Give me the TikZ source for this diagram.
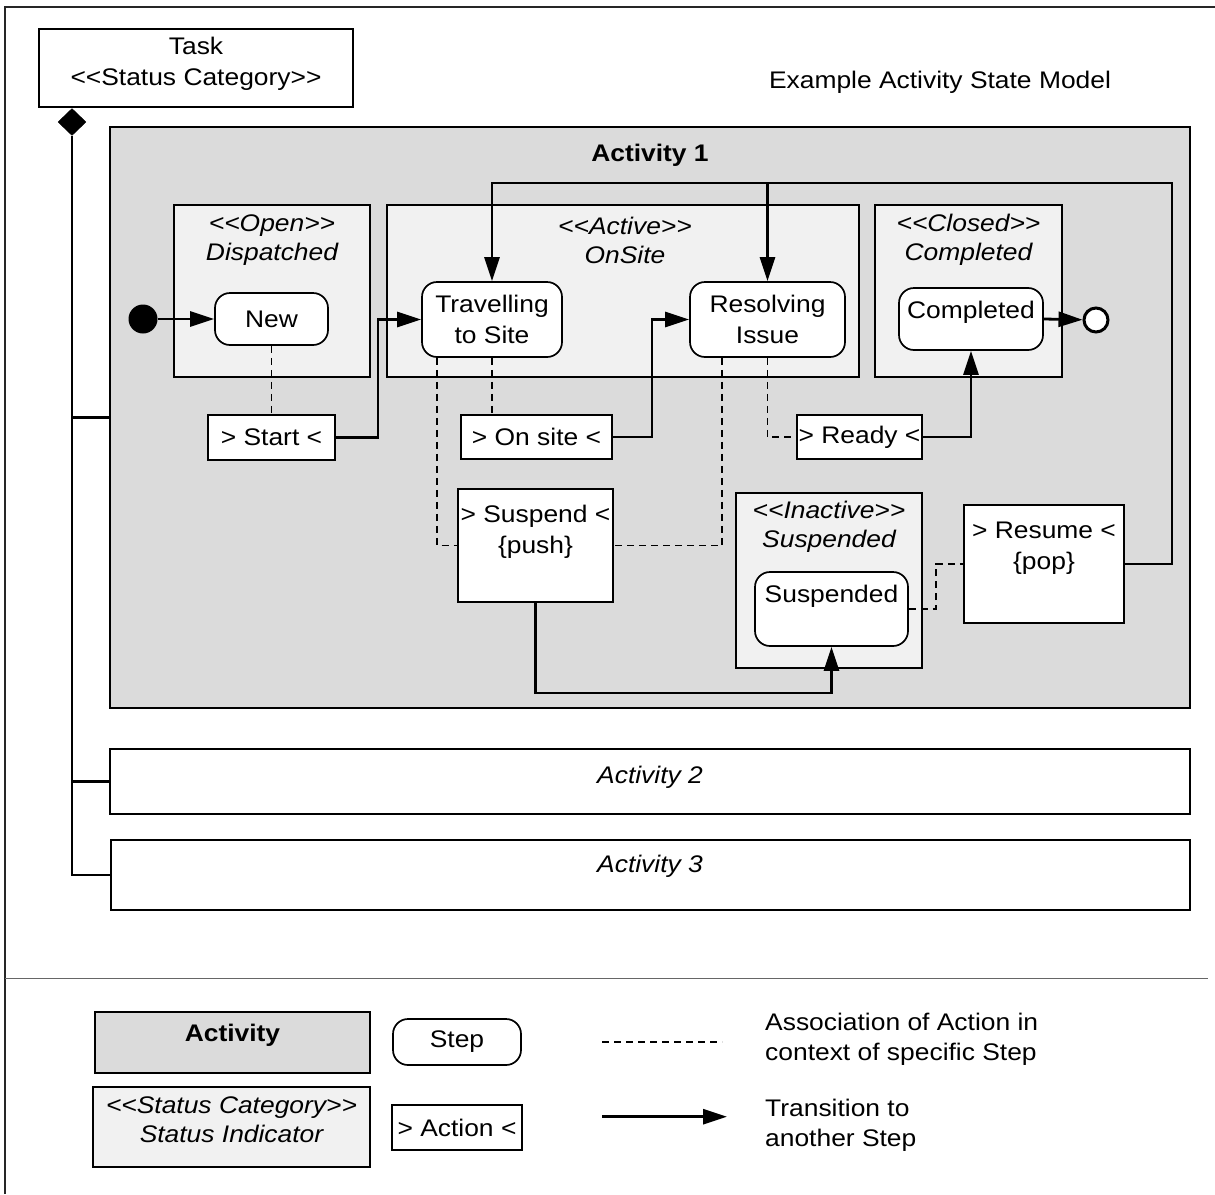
\documentclass[tikz,border=0pt]{standalone}
\usepackage{fontspec}
\setmainfont{Liberation Sans}[FakeStretch=1.1]
\usetikzlibrary{arrows.meta,shapes.geometric}
\definecolor{actgray}{gray}{0.86}
\definecolor{statgray}{gray}{0.945}
% stereotype brackets, kept apart so they never merge into guillemets
\newcommand\lsq{<\kern0pt<}
\newcommand\rsq{>\kern0pt>}
\begin{document}
\begin{tikzpicture}[x=1pt,y=-1pt,
  every node/.style={font=\fontsize{24}{31}\selectfont, inner sep=1pt},
  sz/.style 2 args={minimum width=#1pt, minimum height=#2pt},
  frame/.style={draw, line width=1.7pt},
  activity/.style={frame, fill=actgray},
  emptyact/.style={frame, fill=white},
  statusbox/.style={frame, fill=statgray},
  stepbox/.style={frame, fill=white, rounded corners=15pt},
  actionbox/.style={frame, fill=white},
  lbl/.style={align=center},
  slabel/.style={align=center, font=\fontsize{24}{29}\selectfont\itshape},
  trans/.style={line width=2.8pt, -{Triangle[length=24pt,width=15pt]}},
  link/.style={line width=2.8pt},
  assoc/.style={line width=1.9pt, dash pattern=on 7pt off 5pt},
]
\useasboundingbox (0,0) rectangle (1215,1194);

% page frame and legend separator
\draw[line width=1.4pt, black!85] (5,1194) -- (5,7) -- (1215,7);
\draw[line width=1pt, black!60] (5,978) -- (1208,978);

% task header
\node[frame, sz={314}{78}] (task) at (196,68) {};
\node[lbl] (taskname) at (196,64) {Task\\\lsq Status Category\rsq};
\node (title) at (940,82) {Example Activity State Model};

% composition tree
\node[diamond, draw, fill=black, minimum width=28pt, minimum height=27pt, inner sep=0pt] (comp) at (72,122) {};

% activities
\node[activity, sz={1080}{581}] (act1) at (650,417.5) {};
\node[emptyact, sz={1080}{65}] (act2) at (650,781.5) {};
\node[emptyact, sz={1079}{70}] (act3) at (650.5,875) {};
\node[font=\fontsize{24}{31}\selectfont\bfseries] (act1name) at (650,155) {Activity 1};
\node[font=\fontsize{24}{31}\selectfont\itshape] (act2name) at (650,777) {Activity 2};
\node[font=\fontsize{24}{31}\selectfont\itshape] (act3name) at (650,866) {Activity 3};

\draw[link] (comp.south) |- (act3.west);
\draw[link] (comp.south |- act1.west) -- (act1.west);
\draw[link] (comp.south |- act2.west) -- (act2.west);

% status indicators
\node[statusbox, sz={196}{172}] (sopen) at (272,291) {};
\node[slabel] (sopenname) at (272,240) {\lsq Open\rsq\\Dispatched};
\node[statusbox, sz={472}{172}] (sactive) at (623,291) {};
\node[slabel] (sactivename) at (625,240) {\lsq Active\rsq\\OnSite};
\node[statusbox, sz={187}{172}] (sclosed) at (968.5,291) {};
\node[slabel] (sclosedname) at (968.5,240) {\lsq Closed\rsq\\Completed};
\node[statusbox, sz={186}{175}] (sinactive) at (829,580.5) {};
\node[slabel] (sinactivename) at (829,527) {\lsq Inactive\rsq\\Suspended};

% steps
\node[circle, fill=black, minimum size=29pt, inner sep=0pt] (init) at (143,319) {};
\node[stepbox, sz={113}{52}] (new) at (271.5,319) {New};
\node[stepbox, sz={140}{75}, align=center] (travel) at (492,319.5) {Travelling\\to Site};
\node[stepbox, sz={155}{75}, align=center] (resolve) at (767.5,319.5) {Resolving\\Issue};
\node[stepbox, sz={144}{62}] (completed) at (971,319) {};
\node (completedname) at (971,312) {Completed};
\node[circle, draw, fill=white, line width=3pt, minimum size=24pt, inner sep=0pt] (final) at (1096,320) {};
\node[stepbox, sz={153}{74}] (suspended) at (831.5,609) {};
\node (suspendedname) at (831.5,596) {Suspended};

% actions
\node[actionbox, sz={127}{45}] (start) at (271.5,437.5) {> Start <};
\node[actionbox, sz={151}{44}] (onsite) at (536.5,437) {> On site <};
\node[actionbox, sz={125}{44}] (ready) at (859.5,437) {> Ready <};
\node[actionbox, sz={155}{113}] (suspend) at (535.5,545.5) {};
\node[lbl] (suspendname) at (535.5,532) {> Suspend <\\\{push\}};
\node[actionbox, sz={160}{118}] (resume) at (1044,564) {};
\node[lbl] (resumename) at (1044,548) {> Resume <\\\{pop\}};

% bend points
\coordinate (lowturn) at (831.5,693);
\coordinate (loopcorner) at (1172,183);
\coordinate (popturn) at (936,564);

% associations of actions with steps
\draw[assoc] (new.south) -- (start.north);
\draw[assoc] ([xshift=16pt]travel.south west) |- (suspend.west);
\draw[assoc] (travel.south) -- (travel.south |- onsite.north);
\draw[assoc] ([xshift=-45.5pt]resolve.south) |- (suspend.east);
\draw[assoc] (resolve.south) |- (ready.west);
\draw[assoc] (suspended.east) -| (popturn) -- (resume.west);

% transitions
\draw[trans] (init) -- (new);
\draw[trans] (start.east) -| (378,319.5) -- (travel.west);
\draw[trans] (onsite.east) -| (652,319.5) -- (resolve.west);
\draw[trans] (ready.east) -| (completed.south);
\draw[trans] (completed.east) -- (final);
\draw[trans] (suspend.south) |- (lowturn) -- (suspended.south);
\draw[trans] (resume.east) -| (loopcorner) -| (travel.north);
\draw[trans] (resolve.north |- loopcorner) -- (resolve.north);

% legend
\node[activity, sz={275}{61}] (legact) at (232.5,1042.2) {};
\node[font=\fontsize{24}{31}\selectfont\bfseries] (legactname) at (232.5,1035.5) {Activity};
\node[statusbox, sz={277}{80}] (legstat) at (231.5,1127) {};
\node[slabel] (legstatname) at (231.5,1120) {\lsq Status Category\rsq\\Status Indicator};
\node[stepbox, sz={128}{46}] (legstep) at (457,1042) {Step};
\node[actionbox, sz={130}{45}] (legaction) at (457,1127.5) {> Action <};
\coordinate (legdashA) at (602,1041.7);
\coordinate (legdashB) at (722,1041.7);
\coordinate (legarrA) at (602,1116.7);
\coordinate (legarrB) at (727,1116.7);
\draw[assoc] (legdashA) -- (legdashB);
\draw[trans] (legarrA) -- (legarrB);
\node[anchor=west, align=left, font=\fontsize{24}{30}\selectfont] (legassoc) at (764,1039) {Association of Action in\\context of specific Step};
\node[anchor=west, align=left, font=\fontsize{24}{30}\selectfont] (legtrans) at (764,1125.5) {Transition to\\another Step};
\end{tikzpicture}
\end{document}
